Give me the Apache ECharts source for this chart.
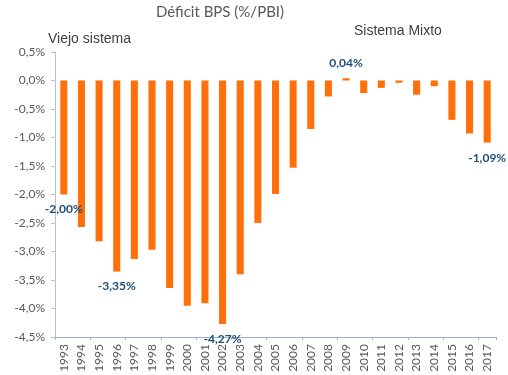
<!DOCTYPE html>
<html><head><meta charset="utf-8">
<script src="https://cdn.jsdelivr.net/npm/echarts@6/dist/echarts.min.js"></script>
<style>html,body{margin:0;padding:0;background:#fff}#c{width:508px;height:375px}</style>
</head><body><div id="c"></div>
<script>
const years = ['1993','1994','1995','1996','1997','1998','1999','2000','2001','2002','2003','2004','2005','2006','2007','2008','2009','2010','2011','2012','2013','2014','2015','2016','2017'];
const deficit = [-2.00,-2.57,-2.82,-3.35,-3.13,-2.97,-3.64,-3.95,-3.91,-4.27,-3.40,-2.50,-1.99,-1.53,-0.85,-0.28,0.04,-0.22,-0.13,-0.04,-0.25,-0.10,-0.69,-0.93,-1.09];
const labelledYears = ['1993','1996','2002','2009','2017'];
const yTicks = {min:-4.5, max:0.5, step:0.5};

const fmt = v => v.toFixed(2).replace('.', ',') + '%';
const data = deficit.map((v,i) => {
  const show = labelledYears.includes(years[i]);
  return {value:v, label:{show:show, position: v>=0 ? 'top' : 'bottom', distance: 9, formatter: fmt(v)}};
});

const chart = echarts.init(document.getElementById('c'));
chart.setOption({
  animation:false,
  graphic:[
    {type:'text', x:220, y:12, style:{text:'Déficit BPS (%/PBI)', align:'center', verticalAlign:'middle', font:'15px Lato', fill:'#595959'}},
    {type:'text', x:48, y:39, style:{text:'Viejo sistema', align:'left', verticalAlign:'middle', font:'14px "Liberation Sans"', fill:'#404040'}},
    {type:'text', x:354, y:31, style:{text:'Sistema Mixto', align:'left', verticalAlign:'middle', font:'14px "Liberation Sans"', fill:'#404040'}}
  ],
  grid:{left:55, right:12, top:52, bottom:38},
  xAxis:[
    {type:'category', data:years, position:'bottom',
     axisLine:{show:false}, axisTick:{show:false},
     axisLabel:{rotate:90, fontFamily:'Lato', fontSize:12, color:'#595959', margin:7}},
    {type:'category', data:years, position:'bottom',
     axisLine:{show:true, onZero:true, lineStyle:{color:'#9FB3CC', width:1}},
     axisTick:{show:true, length:3, lineStyle:{color:'#9FB3CC'}},
     axisLabel:{show:false}}
  ],
  yAxis:{type:'value', min:yTicks.min, max:yTicks.max, interval:yTicks.step,
    axisLine:{show:true, lineStyle:{color:'#BFBFBF'}},
    axisTick:{show:true, length:4, lineStyle:{color:'#BFBFBF'}},
    splitLine:{show:false},
    axisLabel:{fontFamily:'Lato', fontSize:12, color:'#595959', margin:10,
      formatter: v => v.toFixed(1).replace('.', ',') + '%'}},
  series:[{type:'bar', xAxisIndex:0, data:data, barWidth:'40%',
    itemStyle:{color:'#FF6F0A'},
    label:{fontFamily:'Lato', fontSize:12, fontWeight:'bold', color:'#1F4E79'}}]
});
</script></body></html>
